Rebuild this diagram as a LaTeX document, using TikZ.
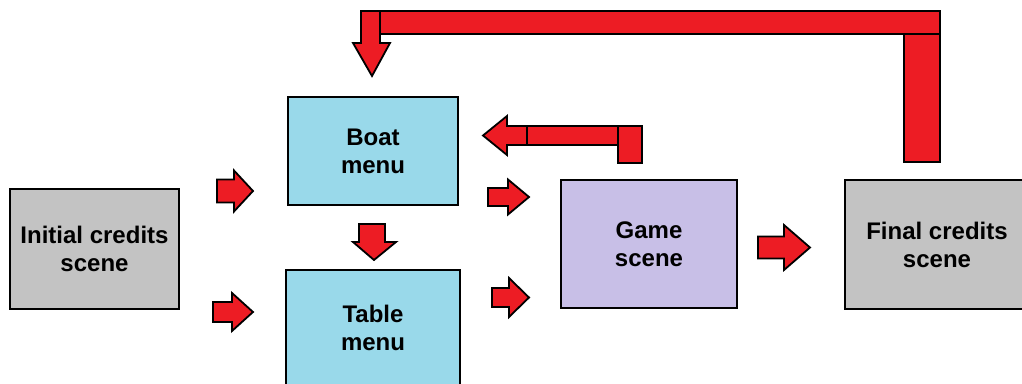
\documentclass[tikz,border=0pt]{standalone}
\usepackage{fontspec}
\setmainfont{Liberation Sans}
\definecolor{arrowred}{HTML}{ED1C24}
\definecolor{menublue}{HTML}{99D9EA}
\definecolor{creditgray}{HTML}{C3C3C3}
\definecolor{gamelilac}{HTML}{C8BFE7}
% right-pointing block arrow: tail x, head base x, tip x, centre y, shaft half width, head half width
\newcommand{\blockright}[6]{%
  \draw[blockarrow] (#1,#4-#5) -- (#2,#4-#5) -- (#2,#4-#6) -- (#3,#4)
    -- (#2,#4+#6) -- (#2,#4+#5) -- (#1,#4+#5) -- cycle;}
\begin{document}
\begin{tikzpicture}[x=1pt,y=-1pt,
  scenebox/.style={draw=black,line width=2pt,rectangle,inner sep=0pt,
    align=center,font=\fontsize{24}{28}\selectfont\bfseries},
  blockarrow/.style={fill=arrowred,draw=black,line width=1.8pt,line join=miter},
  barpart/.style={fill=arrowred,draw=black,line width=1.8pt}]
\useasboundingbox (0,0) rectangle (1022,383);
\clip (0,0) rectangle (1022,383);

% scenes
\node[scenebox,fill=creditgray,minimum width=169pt,minimum height=120pt]
  (initial) at (94.5,249) {Initial credits\\scene};
\node[scenebox,fill=menublue,minimum width=170pt,minimum height=108pt]
  (boat) at (373,151) {Boat\\menu};
\node[scenebox,fill=menublue,minimum width=174pt,minimum height=115pt]
  (table) at (373,327.5) {Table\\menu};
\node[scenebox,fill=gamelilac,minimum width=176pt,minimum height=128pt]
  (game) at (649,244) {Game\\scene};
\node[scenebox,fill=creditgray,minimum width=184pt,minimum height=129pt]
  (final) at (937,244.5) {Final credits\\scene};

% forward arrows
\blockright{217}{234}{253}{191}{11.5}{20.5}
\blockright{213}{232}{253}{312}{10}{19}
\blockright{488}{508}{529}{197}{9}{17.5}
\blockright{492}{509}{529}{297.5}{9.5}{19.5}
\blockright{758}{784}{810}{247.5}{11}{22.5}

% boat menu down to table menu
\draw[blockarrow] (359,224) -- (385,224) -- (385,242) -- (396,242) -- (374,260)
  -- (353,242) -- (359,242) -- cycle;

% game scene back to boat menu
\draw[barpart] (618,126) rectangle (642,163);
\draw[barpart] (527,126) rectangle (618,145);
\draw[blockarrow] (527,126) -- (507,126) -- (507,116) -- (483,135.5)
  -- (507,155) -- (507,145) -- (527,145) -- cycle;

% final credits back to boat menu
\draw[barpart] (361,11) rectangle (940,34);
\draw[barpart] (904,34) rectangle (940,162);
\draw[blockarrow] (361,11) -- (380,11) -- (380,43) -- (390,43) -- (372,76)
  -- (353,43) -- (361,43) -- cycle;
\end{tikzpicture}
\end{document}
